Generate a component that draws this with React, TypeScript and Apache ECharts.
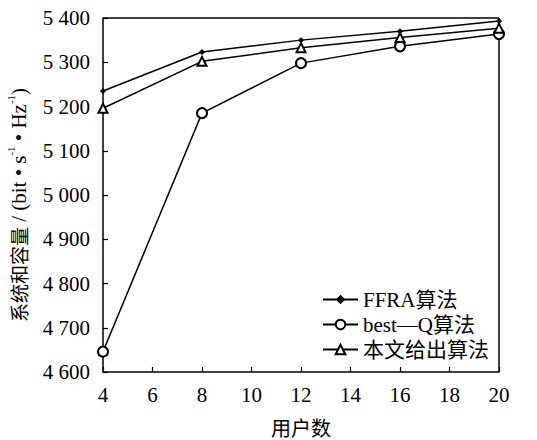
import React, { useEffect, useRef } from "react";
import * as echarts from "echarts";

const users = [4, 8, 12, 16, 20];
const ffra = [5235, 5323, 5350, 5370, 5393];
const bestQ = [4646, 5185, 5298, 5336, 5364];
const proposed = [5196, 5302, 5333, 5356, 5377];
const seriesNames = ["FFRA算法", "best—Q算法", "本文给出算法"];

const FONT = "'Liberation Serif', 'Noto Sans CJK SC', serif";

function fmt(v: number) {
  const s = String(v);
  return s.length > 3 ? s.slice(0, s.length - 3) + " " + s.slice(-3) : s;
}

export default function App() {
  const ref = useRef<HTMLDivElement>(null);
  useEffect(() => {
    if (!ref.current) return;
    const chart = echarts.init(ref.current, undefined, { renderer: "svg" });
    const mk = (arr: number[]) => users.map((u, i) => [u, arr[i]]);
    chart.setOption({
      animation: false,
      backgroundColor: "#fff",
      grid: { left: 103, right: 38, top: 18, bottom: 68, containLabel: false, outerBoundsMode: "none" },
      legend: {
        right: 43,
        bottom: 75,
        orient: "vertical",
        itemWidth: 35,
        itemHeight: 12,
        itemGap: 4,
        textStyle: { fontFamily: FONT, fontSize: 21, color: "#000" },
        data: seriesNames,
      },
      xAxis: {
        type: "value",
        min: 4,
        max: 20,
        interval: 2,
        name: "用户数",
        nameLocation: "middle",
        nameGap: 47,
        nameTextStyle: { fontFamily: FONT, fontSize: 20, color: "#000" },
        axisLine: { show: true, lineStyle: { color: "#000", width: 1.5 } },
        axisTick: { inside: true, length: 5, lineStyle: { color: "#000", width: 1.2 } },
        axisLabel: { fontFamily: FONT, fontSize: 21, color: "#000", margin: 12 },
        splitLine: { show: false },
      },
      yAxis: {
        type: "value",
        min: 4600,
        max: 5400,
        interval: 100,
        name: "{cn|系统和容量} / (bit • s{sup|-1} • Hz{sup|-1})",
        nameLocation: "middle",
        nameGap: 68,
        nameTextStyle: {
          fontFamily: FONT,
          fontSize: 21,
          color: "#000",
          lineHeight: 26,
          padding: [0, 20, 0, 0],
          rich: {
            cn: { fontFamily: "'Noto Sans CJK SC'", fontSize: 19, color: "#000", lineHeight: 26 },
            sup: { fontFamily: FONT, fontSize: 11, color: "#000", verticalAlign: "top", lineHeight: 26, padding: [0, 0, 10, 0] },
          },
        },
        axisLine: { show: true, lineStyle: { color: "#000", width: 1.5 } },
        axisTick: { inside: true, length: 5, lineStyle: { color: "#000", width: 1.2 } },
        axisLabel: { fontFamily: FONT, fontSize: 21, color: "#000", margin: 13, formatter: (v: number) => fmt(v) },
        splitLine: { show: false },
      },
      series: [
        {
          name: seriesNames[0],
          type: "line",
          data: mk(ffra),
          symbol: "diamond",
          symbolSize: 5,
          lineStyle: { color: "#000", width: 1.5 },
          itemStyle: { color: "#000", borderColor: "#000" },
        },
        {
          name: seriesNames[1],
          type: "line",
          data: mk(bestQ),
          symbol: "emptyCircle",
          symbolSize: 10,
          lineStyle: { color: "#000", width: 1.5 },
          itemStyle: { color: "#000", borderColor: "#000", borderWidth: 1.5 },
        },
        {
          name: seriesNames[2],
          type: "line",
          data: mk(proposed),
          symbol: "emptyTriangle",
          symbolSize: 9,
          lineStyle: { color: "#000", width: 1.5 },
          itemStyle: { color: "#000", borderColor: "#000", borderWidth: 1.5 },
        },
      ],
      graphic: [
        {
          type: "line",
          shape: { x1: 103, y1: 18, x2: 499, y2: 18 },
          style: { stroke: "#000", lineWidth: 1.5 },
        },
        {
          type: "line",
          shape: { x1: 499, y1: 18, x2: 499, y2: 372 },
          style: { stroke: "#000", lineWidth: 1.5 },
        },
      ],
    });
    return () => chart.dispose();
  }, []);
  return <div ref={ref} style={{ width: 537, height: 440, position: "absolute", left: 0, top: 0 }} />;
}
